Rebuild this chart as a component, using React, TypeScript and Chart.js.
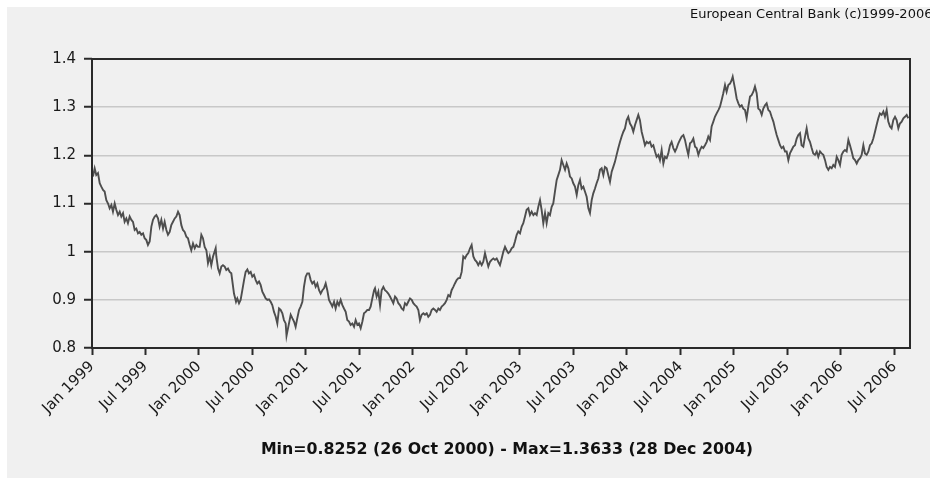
import React, { useEffect, useRef } from 'react';
import { Chart, registerables } from 'chart.js';

Chart.register(...registerables);

const years: number[] = [
  1999.009, 1999.025, 1999.040, 1999.056, 1999.072, 1999.087, 1999.103, 1999.118, 1999.134, 1999.150,
  1999.165, 1999.181, 1999.196, 1999.212, 1999.227, 1999.243, 1999.259, 1999.274, 1999.290, 1999.305,
  1999.321, 1999.336, 1999.352, 1999.368, 1999.383, 1999.399, 1999.414, 1999.430, 1999.445, 1999.461,
  1999.477, 1999.492, 1999.508, 1999.523, 1999.539, 1999.555, 1999.570, 1999.586, 1999.601, 1999.617,
  1999.632, 1999.648, 1999.664, 1999.679, 1999.695, 1999.710, 1999.726, 1999.741, 1999.757, 1999.773,
  1999.788, 1999.804, 1999.819, 1999.835, 1999.850, 1999.866, 1999.882, 1999.897, 1999.913, 1999.928,
  1999.944, 1999.960, 1999.975, 1999.991, 2000.006, 2000.022, 2000.037, 2000.053, 2000.069, 2000.084,
  2000.100, 2000.115, 2000.131, 2000.146, 2000.156, 2000.162, 2000.178, 2000.193, 2000.209, 2000.224,
  2000.240, 2000.255, 2000.271, 2000.287, 2000.302,
  2000.327, 2000.346, 2000.358, 2000.374, 2000.389, 2000.405, 2000.421, 2000.436, 2000.452, 2000.467,
  2000.483, 2000.498, 2000.514, 2000.530, 2000.545, 2000.561, 2000.576, 2000.592, 2000.608, 2000.623,
  2000.639, 2000.654, 2000.670, 2000.685, 2000.701, 2000.717, 2000.732, 2000.748, 2000.763, 2000.779,
  2000.794, 2000.810, 2000.818, 2000.841, 2000.857, 2000.872, 2000.888, 2000.903, 2000.919, 2000.935,
  2000.950, 2000.966, 2000.981, 2000.997, 2001.012, 2001.028, 2001.044, 2001.059, 2001.075, 2001.090,
  2001.106, 2001.122, 2001.137, 2001.153, 2001.168, 2001.184, 2001.199, 2001.215, 2001.231, 2001.246,
  2001.262, 2001.277, 2001.293, 2001.308, 2001.324, 2001.340, 2001.355, 2001.371, 2001.386, 2001.402,
  2001.417, 2001.433, 2001.449, 2001.464, 2001.480, 2001.495, 2001.511, 2001.527, 2001.542, 2001.558,
  2001.573, 2001.589, 2001.604, 2001.620, 2001.636, 2001.645,
  2001.660, 2001.676, 2001.692, 2001.707, 2001.723, 2001.738, 2001.754, 2001.769, 2001.785, 2001.801,
  2001.816, 2001.832, 2001.847, 2001.863, 2001.878, 2001.894, 2001.910, 2001.925, 2001.941, 2001.956,
  2001.972, 2001.988, 2002.003, 2002.019, 2002.034, 2002.050, 2002.065, 2002.081, 2002.097, 2002.112,
  2002.128, 2002.143, 2002.159, 2002.174, 2002.190, 2002.206, 2002.221, 2002.237, 2002.252, 2002.268,
  2002.283, 2002.299, 2002.315, 2002.330, 2002.346, 2002.361, 2002.377, 2002.392, 2002.408, 2002.424,
  2002.439, 2002.455, 2002.470, 2002.486, 2002.501, 2002.517, 2002.533, 2002.548, 2002.564, 2002.579,
  2002.595, 2002.610, 2002.626, 2002.642, 2002.657, 2002.673, 2002.688, 2002.704, 2002.720, 2002.735,
  2002.751, 2002.766, 2002.782, 2002.797, 2002.813, 2002.829, 2002.844, 2002.860, 2002.875, 2002.891,
  2002.906, 2002.922, 2002.938, 2002.953,
  2002.969, 2002.984, 2003.000, 2003.016, 2003.031, 2003.047, 2003.062, 2003.078, 2003.093, 2003.109,
  2003.125, 2003.140, 2003.156, 2003.171, 2003.187, 2003.202, 2003.218, 2003.234, 2003.249, 2003.265,
  2003.280, 2003.296, 2003.311, 2003.327, 2003.343, 2003.358, 2003.374, 2003.389, 2003.405, 2003.421,
  2003.436, 2003.452, 2003.467, 2003.483, 2003.498, 2003.514, 2003.530, 2003.545, 2003.561, 2003.576,
  2003.592, 2003.607, 2003.623, 2003.639, 2003.654, 2003.670, 2003.685, 2003.701, 2003.716, 2003.732,
  2003.748, 2003.763, 2003.779, 2003.794, 2003.810, 2003.825, 2003.841, 2003.857, 2003.872, 2003.888,
  2003.903, 2003.919, 2003.935, 2003.950, 2003.966, 2003.981, 2003.997, 2004.012, 2004.028, 2004.044,
  2004.059, 2004.075, 2004.090, 2004.106, 2004.121, 2004.137, 2004.153, 2004.168, 2004.184, 2004.199,
  2004.215, 2004.230, 2004.246, 2004.262,
  2004.277, 2004.293, 2004.308, 2004.324, 2004.340, 2004.355, 2004.371, 2004.386, 2004.402, 2004.417,
  2004.433, 2004.449, 2004.464, 2004.480, 2004.495, 2004.511, 2004.527, 2004.542, 2004.558, 2004.573,
  2004.589, 2004.604, 2004.620, 2004.636, 2004.651, 2004.667, 2004.682, 2004.698, 2004.713, 2004.729,
  2004.745, 2004.760, 2004.776, 2004.791, 2004.807, 2004.822, 2004.838, 2004.854, 2004.869, 2004.885,
  2004.900, 2004.916, 2004.931, 2004.947, 2004.963, 2004.978, 2004.988, 2005.009, 2005.025, 2005.041,
  2005.056, 2005.072, 2005.087, 2005.103, 2005.118, 2005.134, 2005.150, 2005.165, 2005.181, 2005.196,
  2005.212, 2005.227, 2005.243, 2005.259, 2005.274, 2005.290, 2005.305, 2005.321, 2005.336, 2005.352,
  2005.368, 2005.383, 2005.399, 2005.414, 2005.430, 2005.445, 2005.461, 2005.477, 2005.492, 2005.508,
  2005.523, 2005.539, 2005.555, 2005.570,
  2005.586, 2005.601, 2005.617, 2005.632, 2005.648, 2005.664, 2005.679, 2005.695, 2005.710, 2005.726,
  2005.741, 2005.757, 2005.773, 2005.788, 2005.804, 2005.819, 2005.835, 2005.851, 2005.866, 2005.882,
  2005.897, 2005.913, 2005.928, 2005.944, 2005.960, 2005.975, 2005.991, 2006.006, 2006.022, 2006.037,
  2006.053, 2006.069, 2006.084, 2006.100, 2006.115, 2006.131, 2006.147, 2006.162, 2006.178, 2006.193,
  2006.209, 2006.224, 2006.240, 2006.256, 2006.271, 2006.287, 2006.302, 2006.318, 2006.333, 2006.349,
  2006.364, 2006.380, 2006.396, 2006.411, 2006.427, 2006.442, 2006.458, 2006.473, 2006.489, 2006.505,
  2006.520, 2006.536, 2006.551, 2006.567, 2006.583, 2006.598, 2006.614, 2006.629,
];

// EUR/USD reference rate
const rates: number[] = [
  1.156, 1.173, 1.159, 1.163, 1.142, 1.135, 1.128, 1.125, 1.107, 1.100,
  1.090, 1.097, 1.083, 1.100, 1.087, 1.076, 1.083, 1.073, 1.080, 1.062,
  1.069, 1.059, 1.073, 1.066, 1.062, 1.045, 1.048, 1.038, 1.041, 1.035,
  1.038, 1.028, 1.024, 1.014, 1.021, 1.052, 1.066, 1.073, 1.076, 1.069,
  1.052, 1.066, 1.048, 1.062, 1.045, 1.035, 1.041, 1.055, 1.062, 1.069,
  1.073, 1.083, 1.076, 1.055, 1.045, 1.041, 1.031, 1.028, 1.014, 1.003,
  1.017, 1.007, 1.014, 1.010, 1.010, 1.035, 1.028, 1.010, 1.003, 0.976,
  0.990, 0.972, 0.990, 1.000, 1.007, 0.990, 0.965, 0.955, 0.969, 0.972,
  0.969, 0.962, 0.965, 0.958, 0.955,
  0.913, 0.896, 0.903, 0.893, 0.900, 0.920, 0.941, 0.958, 0.963, 0.955,
  0.958, 0.948, 0.952, 0.941, 0.934, 0.938, 0.931, 0.917, 0.910, 0.903,
  0.900, 0.901, 0.896, 0.889, 0.875, 0.865, 0.851, 0.882, 0.879, 0.872,
  0.858, 0.851, 0.8252, 0.851, 0.869, 0.862, 0.855, 0.844, 0.862, 0.879,
  0.886, 0.896, 0.927, 0.948, 0.955, 0.955, 0.941, 0.934, 0.938, 0.927,
  0.934, 0.920, 0.913, 0.920, 0.924, 0.934, 0.920, 0.900, 0.893, 0.886,
  0.896, 0.882, 0.896, 0.889, 0.900, 0.889, 0.882, 0.875, 0.858, 0.855,
  0.848, 0.851, 0.844, 0.858, 0.848, 0.851, 0.841, 0.855, 0.872, 0.875,
  0.879, 0.879, 0.886, 0.903, 0.920, 0.924,
  0.907, 0.917, 0.889, 0.920, 0.927, 0.920, 0.917, 0.913, 0.907, 0.900,
  0.893, 0.907, 0.903, 0.893, 0.889, 0.882, 0.879, 0.893, 0.889, 0.896,
  0.903, 0.900, 0.893, 0.889, 0.886, 0.879, 0.858, 0.869, 0.872, 0.869,
  0.872, 0.865, 0.869, 0.879, 0.882, 0.879, 0.875, 0.882, 0.879, 0.886,
  0.889, 0.893, 0.900, 0.910, 0.907, 0.920, 0.927, 0.934, 0.941, 0.945,
  0.945, 0.958, 0.990, 0.986, 0.993, 0.997, 1.007, 1.014, 0.990, 0.983,
  0.979, 0.972, 0.979, 0.972, 0.979, 0.997, 0.983, 0.969, 0.979, 0.983,
  0.986, 0.983, 0.986, 0.979, 0.972, 0.986, 1.000, 1.010, 1.003, 0.997,
  1.000, 1.007, 1.010, 1.021,
  1.035, 1.042, 1.038, 1.052, 1.059, 1.073, 1.087, 1.090, 1.076, 1.083,
  1.076, 1.080, 1.076, 1.093, 1.107, 1.087, 1.059, 1.080, 1.059, 1.080,
  1.076, 1.093, 1.100, 1.125, 1.149, 1.159, 1.170, 1.190, 1.180, 1.170,
  1.183, 1.173, 1.156, 1.152, 1.142, 1.135, 1.118, 1.138, 1.149, 1.131,
  1.135, 1.125, 1.114, 1.090, 1.080, 1.107, 1.121, 1.131, 1.142, 1.152,
  1.170, 1.173, 1.159, 1.176, 1.173, 1.159, 1.145, 1.166, 1.176, 1.187,
  1.201, 1.215, 1.228, 1.239, 1.249, 1.256, 1.273, 1.280, 1.266, 1.260,
  1.249, 1.263, 1.273, 1.284, 1.273, 1.249, 1.235, 1.221, 1.228, 1.225,
  1.228, 1.218, 1.221, 1.208,
  1.197, 1.201, 1.190, 1.211, 1.183, 1.197, 1.194, 1.204, 1.221, 1.228,
  1.215, 1.208, 1.215, 1.225, 1.232, 1.239, 1.242, 1.232, 1.215, 1.201,
  1.225, 1.228, 1.235, 1.218, 1.215, 1.201, 1.211, 1.218, 1.215, 1.221,
  1.228, 1.239, 1.232, 1.260, 1.270, 1.280, 1.287, 1.294, 1.301, 1.315,
  1.329, 1.346, 1.332, 1.346, 1.349, 1.356, 1.3633, 1.339, 1.318, 1.308,
  1.301, 1.304, 1.297, 1.294, 1.277, 1.301, 1.322, 1.325, 1.332, 1.343,
  1.329, 1.297, 1.294, 1.284, 1.297, 1.304, 1.308, 1.294, 1.291, 1.280,
  1.270, 1.256, 1.242, 1.232, 1.221, 1.215, 1.218, 1.208, 1.208, 1.190,
  1.204, 1.211, 1.218, 1.221,
  1.235, 1.242, 1.246, 1.221, 1.218, 1.239, 1.256, 1.235, 1.228, 1.215,
  1.204, 1.201, 1.208, 1.197, 1.208, 1.204, 1.201, 1.190, 1.176, 1.170,
  1.176, 1.173, 1.180, 1.176, 1.197, 1.190, 1.180, 1.201, 1.208, 1.211,
  1.208, 1.232, 1.221, 1.208, 1.194, 1.190, 1.183, 1.190, 1.194, 1.201,
  1.221, 1.204, 1.201, 1.208, 1.221, 1.225, 1.235, 1.249, 1.263, 1.277,
  1.287, 1.284, 1.291, 1.280, 1.294, 1.270, 1.260, 1.256, 1.273, 1.280,
  1.273, 1.256, 1.266, 1.270, 1.277, 1.280, 1.284, 1.277,
];

const xTickYears: number[] = [
  1999, 1999.5, 2000, 2000.5, 2001, 2001.5, 2002, 2002.5,
  2003, 2003.5, 2004, 2004.5, 2005, 2005.5, 2006, 2006.5,
];
const xTickLabels: string[] = [
  'Jan 1999', 'Jul 1999', 'Jan 2000', 'Jul 2000', 'Jan 2001', 'Jul 2001', 'Jan 2002', 'Jul 2002',
  'Jan 2003', 'Jul 2003', 'Jan 2004', 'Jul 2004', 'Jan 2005', 'Jul 2005', 'Jan 2006', 'Jul 2006',
];
const yTickValues: number[] = [0.8, 0.9, 1.0, 1.1, 1.2, 1.3, 1.4];
const yTickLabels: string[] = ['0.8', '0.9', '1', '1.1', '1.2', '1.3', '1.4'];

const X_MIN = 1999;
const X_MAX = 2006.645;

const SOURCE_TEXT = 'European Central Bank (c)1999-2006';
const FOOTER_TEXT = 'Min=0.8252 (26 Oct 2000) - Max=1.3633 (28 Dec 2004)';

const FONT = '"DejaVu Sans", sans-serif';

export default function App() {
  const canvasRef = useRef<HTMLCanvasElement | null>(null);

  useEffect(() => {
    const canvas = canvasRef.current;
    if (!canvas) return;

    const framePlugin = {
      id: 'frame',
      afterDraw(chart: any) {
        const { ctx, chartArea } = chart;
        ctx.save();
        ctx.strokeStyle = '#2a2a2a';
        ctx.lineWidth = 2;
        ctx.strokeRect(chartArea.left, chartArea.top, chartArea.right - chartArea.left, chartArea.bottom - chartArea.top);
        ctx.restore();
      },
    };

    const chart = new Chart(canvas, {
      type: 'line',
      data: {
        datasets: [
          {
            data: years.map((x, i) => ({ x, y: rates[i] })),
            borderColor: '#4e4e4e',
            borderWidth: 1.9,
            pointRadius: 0,
            tension: 0,
          },
        ],
      },
      options: {
        animation: false,
        responsive: false,
        maintainAspectRatio: false,
        layout: { padding: { top: 52, right: 20, left: 0, bottom: 0 } },
        plugins: {
          legend: { display: false },
          tooltip: { enabled: false },
          title: { display: false },
        },
        scales: {
          x: {
            type: 'linear',
            min: X_MIN,
            max: X_MAX,
            afterBuildTicks: (scale: any) => {
              scale.ticks = xTickYears.map((v) => ({ value: v }));
            },
            afterFit: (scale: any) => {
              scale.height = 130;
            },
            ticks: {
              autoSkip: false,
              minRotation: 45,
              maxRotation: 45,
              padding: 3,
              color: '#1a1a1a',
              font: { family: FONT, size: 15 },
              callback: (v: any) => {
                const i = xTickYears.indexOf(Number(v));
                return i >= 0 ? xTickLabels[i] : '';
              },
            },
            grid: {
              drawOnChartArea: false,
              drawTicks: true,
              tickLength: 7,
              tickColor: '#2a2a2a',
              tickWidth: 2,
            },
            border: { display: false },
          },
          y: {
            min: 0.8,
            max: 1.4,
            afterBuildTicks: (scale: any) => {
              scale.ticks = yTickValues.map((v) => ({ value: v }));
            },
            afterFit: (scale: any) => {
              scale.width = 85;
            },
            ticks: {
              padding: 8,
              color: '#1a1a1a',
              font: { family: FONT, size: 15 },
              callback: (v: any) => {
                const i = yTickValues.indexOf(Number(v));
                return i >= 0 ? yTickLabels[i] : '';
              },
            },
            grid: {
              color: '#c8c8c8',
              lineWidth: 1.5,
              tickLength: 8,
              tickColor: '#2a2a2a',
              tickWidth: 2,
            },
            border: { display: false },
          },
        },
      },
      plugins: [framePlugin],
    });

    return () => {
      chart.destroy();
    };
  }, []);

  return (
    <div
      style={{
        position: 'fixed',
        left: 0,
        top: 0,
        right: 0,
        bottom: 0,
        background: '#ffffff',
        overflow: 'hidden',
      }}
    >
      <div
        style={{
          position: 'absolute',
          left: 7,
          top: 7,
          right: 0,
          bottom: 0,
          background: '#f0f0f0',
        }}
      />
      <canvas
        ref={canvasRef}
        width={923}
        height={471}
        style={{ position: 'absolute', left: 7, top: 7, width: 923, height: 471 }}
      />
      <div
        style={{
          position: 'absolute',
          left: 690,
          top: 6,
          whiteSpace: 'nowrap',
          fontFamily: FONT,
          fontSize: 13,
          lineHeight: '16px',
          color: '#111',
        }}
      >
        {SOURCE_TEXT}
      </div>
      <div
        style={{
          position: 'absolute',
          left: 0,
          width: 1014,
          top: 439,
          textAlign: 'center',
          whiteSpace: 'nowrap',
          fontFamily: FONT,
          fontWeight: 'bold',
          fontSize: 15.8,
          lineHeight: '20px',
          color: '#111',
        }}
      >
        {FOOTER_TEXT}
      </div>
    </div>
  );
}
